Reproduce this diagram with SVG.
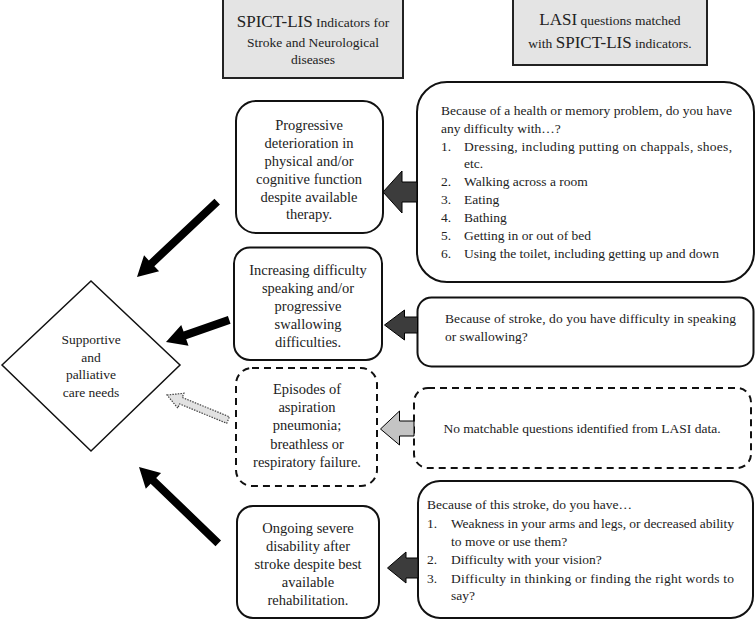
<svg xmlns="http://www.w3.org/2000/svg" width="756" height="620" viewBox="0 0 756 620">
<style>
text{font-family:"Liberation Serif","Times New Roman",serif;fill:#222}
.hdr{fill:#e4e4e4;stroke:#222;stroke-width:2}
.box{fill:#fff;stroke:#111;stroke-width:2}
.dash{fill:#fff;stroke:#111;stroke-width:2;stroke-dasharray:7 5}
.lt{font-size:14.5px;text-anchor:middle}
.rt{font-size:13.5px}
.dt{font-size:13.5px;text-anchor:middle}
.ba{fill:#3c3c3c;stroke:#000;stroke-width:1}
.bal{fill:#c4c4c4;stroke:#000;stroke-width:1}
.ta{fill:#000}
.td{fill:#e2e2e2;stroke:#444;stroke-width:1.2;stroke-dasharray:1.5 1.2}
</style>
<rect width="756" height="620" fill="#fff"/>
<g id="header-spict">
<rect class="hdr" x="223" y="-2" width="180" height="80"/>
<text x="313" y="27" text-anchor="middle"><tspan font-size="17">SPICT-LIS</tspan><tspan font-size="13.5"> Indicators for</tspan></text>
<text x="313" y="47" text-anchor="middle" font-size="13.5">Stroke and Neurological</text>
<text x="313" y="64" text-anchor="middle" font-size="13.5">diseases</text>
</g>
<g id="header-lasi">
<rect class="hdr" x="513" y="-2" width="194" height="67"/>
<text x="610" y="25" text-anchor="middle"><tspan font-size="17">LASI</tspan><tspan font-size="13.5"> questions matched</tspan></text>
<text x="610" y="48" text-anchor="middle"><tspan font-size="13.5">with </tspan><tspan font-size="17">SPICT-LIS</tspan><tspan font-size="13.5"> indicators.</tspan></text>
</g>
<g id="diamond">
<polygon points="2,365 91,281 180,365 91,451" fill="#fff" stroke="#111" stroke-width="1.5"/>
<text class="dt" x="91" y="344">Supportive</text>
<text class="dt" x="91" y="362">and</text>
<text class="dt" x="91" y="379">palliative</text>
<text class="dt" x="91" y="397">care needs</text>
</g>
<g id="ind-progressive">
<rect class="box" x="236" y="101" width="147" height="132" rx="20"/>
<text class="lt" x="309" y="130">Progressive</text>
<text class="lt" x="309" y="148">deterioration in</text>
<text class="lt" x="309" y="166">physical and/or</text>
<text class="lt" x="309" y="184">cognitive function</text>
<text class="lt" x="309" y="202">despite available</text>
<text class="lt" x="309" y="219">therapy.</text>
</g>
<g id="ind-speaking">
<rect class="box" x="234" y="247.5" width="148" height="112.5" rx="16"/>
<text class="lt" x="308" y="275">Increasing difficulty</text>
<text class="lt" x="308" y="293">speaking and/or</text>
<text class="lt" x="308" y="311">progressive</text>
<text class="lt" x="308" y="329">swallowing</text>
<text class="lt" x="308" y="347">difficulties.</text>
</g>
<g id="ind-aspiration">
<rect class="dash" x="236" y="368" width="141" height="118" rx="16"/>
<text class="lt" x="307" y="394">Episodes of</text>
<text class="lt" x="307" y="412">aspiration</text>
<text class="lt" x="307" y="430">pneumonia;</text>
<text class="lt" x="307" y="449">breathless or</text>
<text class="lt" x="307" y="467">respiratory failure.</text>
</g>
<g id="ind-disability">
<rect class="box" x="237" y="506" width="142" height="112" rx="16"/>
<text class="lt" x="308" y="533">Ongoing severe</text>
<text class="lt" x="308" y="551">disability after</text>
<text class="lt" x="308" y="569">stroke despite best</text>
<text class="lt" x="308" y="587">available</text>
<text class="lt" x="308" y="605">rehabilitation.</text>
</g>
<g id="q-adl">
<rect class="box" x="417" y="82" width="337" height="200" rx="30"/>
<text class="rt" x="441" y="115" textLength="291" lengthAdjust="spacing">Because of a health or memory problem, do you have</text>
<text class="rt" x="441" y="133">any difficulty with…?</text>
<text class="rt" x="441" y="151">1.</text><text class="rt" x="464" y="151" textLength="268" lengthAdjust="spacing">Dressing, including putting on chappals, shoes,</text>
<text class="rt" x="464" y="168">etc.</text>
<text class="rt" x="441" y="186">2.</text><text class="rt" x="464" y="186">Walking across a room</text>
<text class="rt" x="441" y="204">3.</text><text class="rt" x="464" y="204">Eating</text>
<text class="rt" x="441" y="222">4.</text><text class="rt" x="464" y="222">Bathing</text>
<text class="rt" x="441" y="240">5.</text><text class="rt" x="464" y="240">Getting in or out of bed</text>
<text class="rt" x="441" y="258">6.</text><text class="rt" x="464" y="258">Using the toilet, including getting up and down</text>
</g>
<g id="q-stroke-speech">
<rect class="box" x="417.5" y="297.5" width="336" height="69" rx="14"/>
<text class="rt" x="445" y="323" textLength="291" lengthAdjust="spacing">Because of stroke, do you have difficulty in speaking</text>
<text class="rt" x="445" y="340.5">or swallowing?</text>
</g>
<g id="q-none">
<rect class="dash" x="414" y="388" width="337" height="80" rx="14"/>
<text class="rt" x="582" y="433" text-anchor="middle">No matchable questions identified from LASI data.</text>
</g>
<g id="q-stroke-effects">
<rect class="box" x="418" y="481" width="335" height="137" rx="22"/>
<text class="rt" x="427" y="509">Because of this stroke, do you have…</text>
<text class="rt" x="427" y="528">1.</text><text class="rt" x="451" y="528" textLength="283" lengthAdjust="spacing">Weakness in your arms and legs, or decreased ability</text>
<text class="rt" x="451" y="546">to move or use them?</text>
<text class="rt" x="427" y="564">2.</text><text class="rt" x="451" y="564">Difficulty with your vision?</text>
<text class="rt" x="427" y="583">3.</text><text class="rt" x="451" y="583" textLength="283" lengthAdjust="spacing">Difficulty in thinking or finding the right words to</text>
<text class="rt" x="451" y="600">say?</text>
</g>
<g id="connectors">
<polygon class="ba" points="383,192 402,171 402,182 417,182 417,202 402,202 402,213"/>
<polygon class="ba" points="384.5,325 404.5,310 404.5,317 417.5,317 417.5,333 404.5,333 404.5,340"/>
<polygon class="bal" points="380.5,429 399.5,411 399.5,421 414,421 414,436 399.5,436 399.5,445"/>
<polygon class="ba" points="387.5,568 406,552 406,558 418,558 418,578 406,578 406,583"/>
<polygon class="ta" transform="translate(137,277) rotate(-43.2)" points="0,0 20,-11 20,-4 110,-4 110,4 20,4 20,11"/>
<polygon class="ta" transform="translate(166,342) rotate(-19.3)" points="0,0 20,-11 20,-4 67,-4 67,4 20,4 20,11"/>
<polygon class="td" transform="translate(167,395) rotate(22.3)" points="0,0 15,-8 15,-3.5 66,-3.5 66,3.5 15,3.5 15,8"/>
<polygon class="ta" transform="translate(139,467) rotate(43.9)" points="0,0 20,-11 20,-4 110,-4 110,4 20,4 20,11"/>
</g>
</svg>
